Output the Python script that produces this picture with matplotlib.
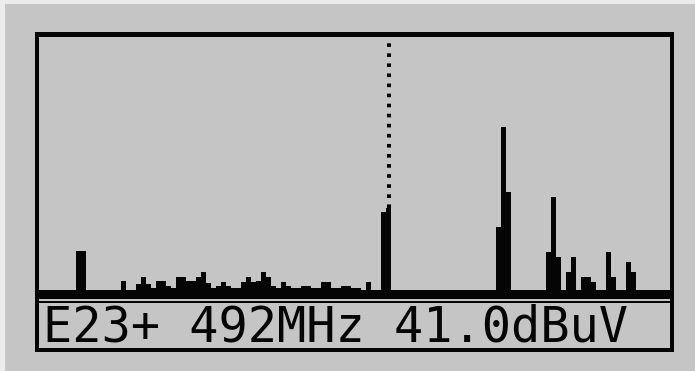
import matplotlib
matplotlib.use("Agg")
import matplotlib.pyplot as plt
from matplotlib.patches import Rectangle

# ---- data (LCD spectrum columns and levels, marker readout) ----
columns = [8, 9, 17, 20, 21, 22, 23, 24, 25, 26, 27, 28, 29, 30, 31, 32, 33, 34, 35, 36,
           37, 38, 39, 40, 41, 42, 43, 44, 45, 46, 47, 48, 49, 50, 51, 52, 53, 54, 55, 56,
           57, 58, 59, 60, 61, 62, 63, 64, 66, 69, 70, 92, 93, 94, 102, 103, 104, 106, 107, 109,
           110, 111, 114, 115, 118, 119]
levels = [7.8, 7.8, 1.8, 1.2, 2.6, 1.2, 0.4, 1.8, 1.8, 0.8, 0.4, 2.6, 2.6, 1.8, 1.8, 2.6, 3.6, 1.4, 0.4, 0.8,
          1.6, 0.8, 0.4, 0.4, 1.6, 2.6, 1.6, 1.8, 3.6, 2.6, 0.8, 0.4, 1.6, 0.8, 0.4, 0.4, 0.8, 0.8, 0.4, 0.4,
          1.6, 1.6, 0.4, 0.4, 0.8, 0.8, 0.4, 0.4, 1.6, 15.6, 16.4, 12.6, 32.6, 19.6, 7.6, 18.6, 6.6, 3.6, 6.6, 2.6,
          2.6, 1.6, 7.6, 2.6, 5.6, 3.6]
marker_col = 70
readout = "E23+ 492MHz 41.0dBuV"
assert len(columns) == len(levels)

W, H = 695, 371
BG = "#c5c5c5"
INK = "#050505"

fig = plt.figure(figsize=(W / 100, H / 100), dpi=100, facecolor=BG)


def frect(x0, y0, x1, y1):
    return [x0 / W, 1 - y1 / H, (x1 - x0) / W, (y1 - y0) / H]


def add_box(x0, y0, x1, y1, color, z=5):
    l, b, w, h = frect(x0, y0, x1, y1)
    fig.add_artist(Rectangle((l, b), w, h, transform=fig.transFigure,
                             facecolor=color, edgecolor="none", zorder=z))


# light screenshot edges
add_box(0, 0, 5, H, "#ececec", z=1)
add_box(0, 0, W, 4, "#ececec", z=1)

# spectrum axes
ax = fig.add_axes(frect(36, 37, 671, 290))
ax.set_facecolor("none")
ax.set_xlim(-0.5, 126.5)
ax.set_ylim(0, (290 - 37) / 5)
ax.bar(columns, levels, width=1.0, color=INK, linewidth=0, zorder=3)
marker_level = levels[columns.index(marker_col)]
ax.vlines(marker_col, marker_level, ax.get_ylim()[1], colors=INK, linewidth=2.9,
          linestyles=(0, (0.9, 1.6)), zorder=3)
for s in ax.spines.values():
    s.set_visible(False)
ax.set_xticks([])
ax.set_yticks([])

# outer frame
add_box(35, 32, 674, 36.5, INK)      # top
add_box(35, 32, 39, 352, INK)        # left
add_box(670, 32, 674, 352, INK)      # right
add_box(35, 347.5, 674, 352, INK)    # bottom
# baseline band and text box top
add_box(35, 290, 674, 298.5, INK)
add_box(35, 300.5, 674, 302.5, INK)

# readout text
fig.text(43 / W, 1 - 342 / H, readout, fontfamily="DejaVu Sans Mono", fontsize=35,
         color=INK, ha="left", va="baseline")

fig.savefig("out.png", dpi=100, facecolor=BG)
